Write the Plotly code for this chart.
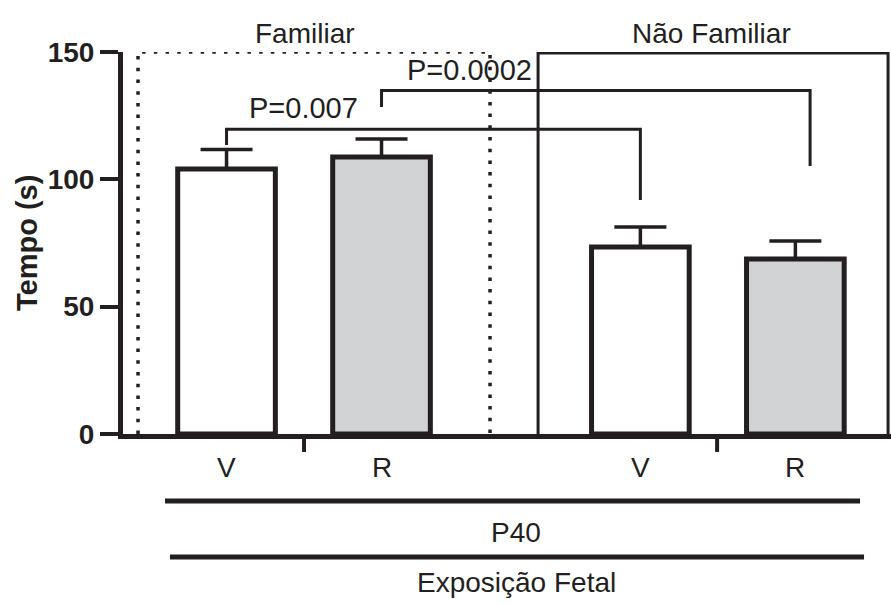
import plotly.graph_objects as go

# ---- data ----
groups = ["Familiar", "Não Familiar"]
treatments = ["V", "R", "V", "R"]
bar_pos = [1.0, 2.0, 3.67, 4.67]
means = [104.1, 108.8, 73.4, 68.7]
sem = [7.6, 7.0, 7.9, 7.1]
fills = ["#ffffff", "#d1d3d4", "#ffffff", "#d1d3d4"]
y_ticks = [0, 50, 100, 150]
p_labels = ["P=0.007", "P=0.0002"]
# bracket: (x_left, y_left_end, x_right, y_right_end, y_top)
brackets = [(1.0, 113.5, 3.67, 91.9, 119.7), (2.0, 128.4, 4.765, 105.2, 134.9)]
p_label_pos = [(1.494, 128.0), (2.565, 142.9)]

INK = "#231f20"
FONT = "Liberation Sans, Arial, sans-serif"

fig = go.Figure()
fig.add_trace(go.Bar(
    x=bar_pos, y=means, width=0.63,
    marker=dict(color=fills, line=dict(color=INK, width=5)),
    error_y=dict(type="data", symmetric=False, array=sem,
                 arrayminus=[0] * len(sem), color=INK, thickness=3.5, width=26),
    showlegend=False, hoverinfo="skip",
))

shapes = []
# Familiar dotted box
shapes.append(dict(type="path", path="M 0.429 0 L 0.429 150 L 2.7 150 L 2.7 0",
                   xref="x", yref="y", line=dict(color=INK, width=3.5, dash="3.5px,8.2px"),
                   layer="below"))
# Não Familiar solid box
shapes.append(dict(type="path", path="M 3.01 0 L 3.01 149.6 L 5.268 149.6 L 5.268 0",
                   xref="x", yref="y", line=dict(color=INK, width=3), layer="below"))
# brackets
for (xl, yl, xr, yr, yt) in brackets:
    shapes.append(dict(type="path",
                       path=f"M {xl} {yl} L {xl} {yt} L {xr} {yt} L {xr} {yr}",
                       xref="x", yref="y", line=dict(color=INK, width=3)))
# group separator ticks below axis
for xt in [1.5, 4.165]:
    shapes.append(dict(type="line", x0=xt, x1=xt, y0=0, y1=-0.047,
                       xref="x", yref="paper", line=dict(color=INK, width=4)))
# y-axis slight extension below the corner
shapes.append(dict(type="line", x0=0, x1=0, y0=0, y1=-0.01,
                   xref="paper", yref="paper", line=dict(color=INK, width=5)))
# bottom lines
shapes.append(dict(type="line", x0=0.603, x1=5.087, y0=-0.1754, y1=-0.1754,
                   xref="x", yref="paper", line=dict(color=INK, width=5)))
shapes.append(dict(type="line", x0=0.635, x1=5.113, y0=-0.322, y1=-0.322,
                   xref="x", yref="paper", line=dict(color=INK, width=5)))

ann = []
for xp, t in zip(bar_pos, treatments):
    ann.append(dict(x=xp, y=-0.089, xref="x", yref="paper", text=t, showarrow=False,
                    font=dict(size=28, color=INK, family=FONT), yanchor="middle"))
ann.append(dict(x=2.868, y=-0.259, xref="x", yref="paper", text="P40", showarrow=False,
                font=dict(size=28, color=INK, family=FONT), yanchor="middle"))
ann.append(dict(x=2.868, y=-0.39, xref="x", yref="paper", text="Exposição Fetal",
                showarrow=False, font=dict(size=28, color=INK, family=FONT), yanchor="middle"))
ann.append(dict(x=1.506, y=1.0497, xref="x", yref="paper", text=groups[0], showarrow=False,
                font=dict(size=28, color=INK, family=FONT), yanchor="middle"))
ann.append(dict(x=4.132, y=1.0497, xref="x", yref="paper", text=groups[1], showarrow=False,
                font=dict(size=28, color=INK, family=FONT), yanchor="middle"))
for (xp, yp), t in zip(p_label_pos, p_labels):
    ann.append(dict(x=xp, y=yp, xref="x", yref="y", text=t, showarrow=False,
                    font=dict(size=29, color=INK, family=FONT), yanchor="middle"))
ann.append(dict(x=(27 - 123) / 768, y=(434 - 243) / 382, xref="paper", yref="paper",
                text="<b>Tempo (s)</b>", showarrow=False, textangle=-90,
                xanchor="center", yanchor="middle",
                font=dict(size=29, color=INK, family=FONT)))

fig.update_layout(
    width=891, height=604,
    margin=dict(l=123, r=0, t=52, b=170),
    paper_bgcolor="white", plot_bgcolor="white",
    shapes=shapes, annotations=ann,
    xaxis=dict(range=[0.332, 5.287], showgrid=False, zeroline=False,
               showline=True, linewidth=5, linecolor=INK,
               showticklabels=False, ticks=""),
    yaxis=dict(range=[0, 150], tickvals=y_ticks, ticktext=[f"<b>{v}</b>" for v in y_ticks],
               showgrid=False, zeroline=False, showline=True, linewidth=5,
               linecolor=INK, ticks="outside", ticklen=18, tickwidth=4, tickcolor=INK,
               tickfont=dict(size=28, color=INK, family=FONT)),
    font=dict(family=FONT, color=INK),
)

fig.write_html("out.html")
